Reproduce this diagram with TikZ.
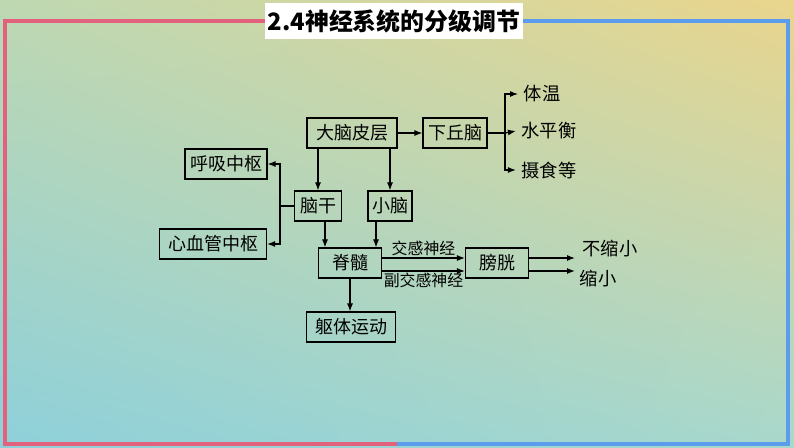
\documentclass[tikz,border=0pt]{standalone}
\usepackage{fontspec}
\setmainfont{Noto Sans CJK SC}
\usepackage{tikz}
\usetikzlibrary{arrows.meta,positioning,calc,shadings}
\definecolor{framepink}{RGB}{226,98,126}
\definecolor{frameblue}{RGB}{92,156,236}
\definecolor{bgul}{RGB}{190,216,178}
\definecolor{bgur}{RGB}{234,213,140}
\definecolor{bgll}{RGB}{142,208,218}
\definecolor{bglr}{RGB}{168,216,204}
\begin{document}
\begin{tikzpicture}[x=0.025cm,y=-0.025cm,
  box/.style={draw,line width=0.8pt,minimum height=0.75cm,inner sep=2pt,font=\fontsize{12.8}{14}\selectfont},
  lab/.style={inner sep=1pt,font=\fontsize{13}{15}\selectfont},
  nerve/.style={inner sep=1pt,font=\fontsize{11.3}{13}\selectfont},
  arr/.style={-{Latex[length=2mm,width=1.5mm]},line width=0.8pt},
  ln/.style={line width=0.8pt},
  rim/.style={line width=3.5pt}]
\useasboundingbox (0,0) rectangle (794,447);
% ---------- background and frame ----------
\shade[upper left=bgul,upper right=bgur,lower left=bgll,lower right=bglr] (0,0) rectangle (794,447);
\draw[rim,framepink] (397,444) -- (5,444) -- (5,21) -- (265,21);
\draw[rim,frameblue] (523,21) -- (788,21) -- (788,444) -- (397,444);
\node[fill=white,minimum width=6.45cm,minimum height=0.9cm,inner sep=0pt,font=\bfseries\fontsize{17}{20}\selectfont] (title) at (394,21) {2.4神经系统的分级调节};
% ---------- boxes ----------
\node[box,minimum width=2.25cm] (cortex) at (352,133) {大脑皮层};
\node[box,minimum width=1.6cm] (hypo) at (455,133) {下丘脑};
\node[box,minimum width=2.05cm] (resp) at (226,164) {呼吸中枢};
\node[box,minimum width=2.675cm] (cardio) at (213,244) {心血管中枢};
\node[box,minimum width=1.175cm] (stem) at (318,206) {脑干};
\node[box,minimum width=1.1cm] (cereb) at (390,206) {小脑};
\node[box,minimum width=1.575cm] (cord) at (350,263) {脊髓};
\node[box,minimum width=1.575cm] (bladder) at (497,263) {膀胱};
\node[box,minimum width=2.225cm] (motor) at (351,327) {躯体运动};
% ---------- plain texts ----------
\node[lab] (temp) at (542,94) {体温};
\node[lab] (water) at (549,131) {水平衡};
\node[lab] (food) at (549,170) {摄食等};
\node[lab] (noshrink) at (610,249) {不缩小};
\node[lab] (shrink) at (598,279) {缩小};
\coordinate (split) at (505,133);
\coordinate (fork) at (280,206);
\coordinate (noin) at (575,258);
\coordinate (shin) at (575,271);
% ---------- connectors ----------
\draw[arr] (cortex) -- (hypo);
\draw[ln] (hypo.east) -- (split);
\draw[arr] (split) |- ([xshift=-0.1cm]temp.west);
\draw[arr] (split) -- ([xshift=-0.1cm]water.west);
\draw[arr] (split) |- ([xshift=-0.1cm]food.west);
\draw[arr] (cortex.south -| stem.north) -- (stem.north);
\draw[arr] (cortex.south -| cereb.north) -- (cereb.north);
\draw[ln] (stem.west) -- (fork);
\draw[arr] (fork) |- (resp.east);
\draw[arr] (fork) |- (cardio.east);
\draw[arr] ([xshift=0.175cm]stem.south) -- ([xshift=0.175cm]stem.south |- cord.north);
\draw[arr] ([xshift=-0.35cm]cereb.south) -- ([xshift=-0.35cm]cereb.south |- cord.north);
\draw[arr] (cord.south) -- (cord.south |- motor.north);
\draw[arr] ([yshift=0.125cm]cord.east) -- node[nerve,above]{交感神经} ([yshift=0.125cm]bladder.west);
\draw[arr] ([yshift=-0.2cm]cord.east) -- node[nerve,below]{副交感神经} ([yshift=-0.2cm]bladder.west);
\draw[arr] (bladder.east |- noin) -- (noin);
\draw[arr] (bladder.east |- shin) -- (shin);
\end{tikzpicture}
\end{document}
